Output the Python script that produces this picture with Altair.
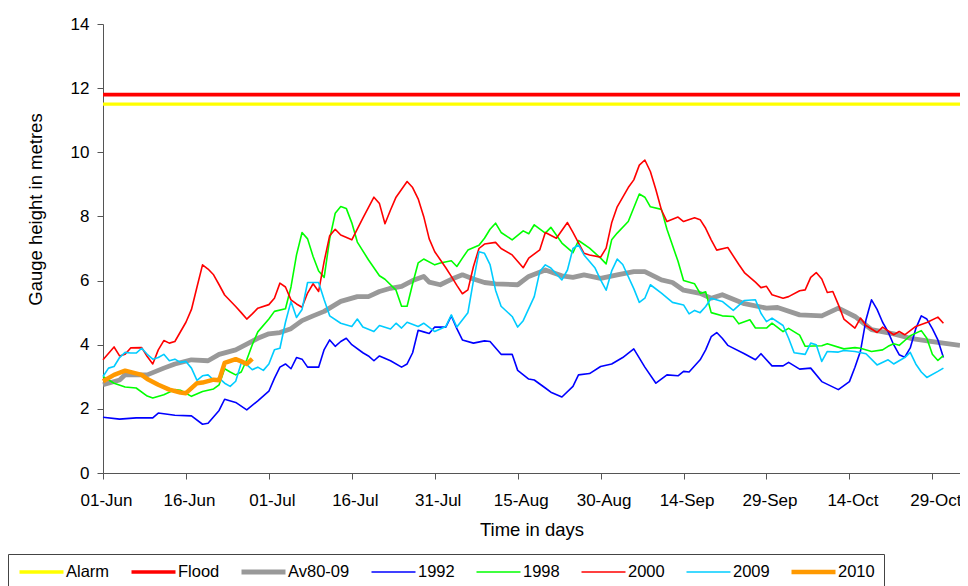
import altair as alt
import pandas as pd

# x axis: days counted from 01-Jun
tick_days = [0, 15, 30, 45, 60, 75, 90, 105, 120, 135, 150]
tick_labels = ["01-Jun", "16-Jun", "01-Jul", "16-Jul", "31-Jul", "15-Aug",
               "30-Aug", "14-Sep", "29-Sep", "14-Oct", "29-Oct"]
y_ticks = [0, 2, 4, 6, 8, 10, 12, 14]

alarm_level = 11.5
flood_level = 11.8
span_days = [0, 155]

av_days = [0, 3, 4, 8, 11, 13, 16, 19, 21, 24, 26, 28, 30, 32, 34, 36, 38, 40, 43, 46,
           48, 50, 52, 54, 56, 58, 59, 61, 63, 65, 67, 69, 71, 75, 77, 80, 83, 85, 87, 90,
           93, 96, 98, 101, 103, 105, 108, 110, 112, 116, 120, 122, 126, 130, 133, 136,
           139, 143, 146, 150, 155]
av_vals = [2.75, 2.90, 3.06, 3.06, 3.27, 3.40, 3.53, 3.50, 3.70, 3.84, 4.02, 4.20, 4.34,
           4.38, 4.50, 4.75, 4.90, 5.04, 5.35, 5.50, 5.50, 5.66, 5.76, 5.82, 6.00, 6.13,
           5.95, 5.87, 6.04, 6.18, 6.05, 5.94, 5.90, 5.87, 6.13, 6.33, 6.15, 6.10, 6.18,
           6.07, 6.18, 6.28, 6.28, 6.02, 5.94, 5.70, 5.60, 5.45, 5.56, 5.28, 5.14, 5.16,
           4.93, 4.90, 5.14, 4.88, 4.47, 4.34, 4.20, 4.10, 3.98]

y1992_days = [0, 3, 6, 9, 10, 13, 16, 18, 19, 21, 22, 24, 26, 28, 30, 31, 32, 33, 34, 35,
              36, 37, 39, 40, 41, 42, 43, 44, 45, 47, 48, 49, 50, 52, 54, 55, 56, 57, 58,
              59, 60, 62, 63, 64, 65, 67, 69, 70, 72, 74, 75, 77, 78, 80, 81, 83, 85, 86,
              88, 90, 92, 93, 94, 96, 98, 100, 102, 104, 105, 106, 108, 109, 110, 111, 112,
              113, 116, 118, 119, 121, 123, 124, 126, 128, 130, 133, 135, 136, 137, 138,
              139, 140, 141, 142, 143, 144, 145, 146, 147, 148, 149, 150, 151, 152]
y1992_vals = [1.74, 1.68, 1.72, 1.72, 1.87, 1.80, 1.78, 1.52, 1.55, 1.95, 2.30, 2.20, 1.97,
              2.25, 2.55, 2.95, 3.30, 3.40, 3.25, 3.60, 3.55, 3.30, 3.30, 3.85, 4.15, 3.95,
              4.10, 4.20, 4.00, 3.75, 3.65, 3.50, 3.65, 3.50, 3.30, 3.40, 3.75, 4.45, 4.40,
              4.35, 4.55, 4.55, 4.90, 4.50, 4.15, 4.05, 4.12, 4.10, 3.70, 3.70, 3.20, 2.93,
              2.90, 2.65, 2.52, 2.37, 2.70, 3.06, 3.10, 3.32, 3.40, 3.50, 3.60, 3.87, 3.30,
              2.80, 3.06, 3.03, 3.17, 3.15, 3.53, 3.84, 4.25, 4.38, 4.20, 3.98, 3.72, 3.53,
              3.72, 3.34, 3.34, 3.45, 3.24, 3.27, 2.85, 2.60, 2.85, 3.30, 3.80, 4.78, 5.40,
              5.10, 4.70, 4.40, 4.00, 3.69, 3.61, 3.90, 4.50, 4.90, 4.80, 4.50, 4.15, 3.60]

y1998_days = [0, 2, 4, 6, 8, 9, 11, 13, 14, 16, 18, 20, 21, 22, 23, 24, 25, 26, 27, 28, 30,
              31, 33, 34, 35, 36, 37, 38, 39, 40, 41, 42, 43, 44, 45, 46, 48, 50, 51, 53, 54,
              55, 56, 57, 58, 60, 61, 63, 64, 65, 66, 68, 69, 70, 71, 72, 74, 76, 77, 78, 80,
              81, 83, 85, 86, 88, 90, 91, 92, 93, 95, 97, 98, 99, 101, 102, 104, 105, 107,
              108, 109, 110, 112, 114, 115, 117, 118, 120, 121, 123, 124, 126, 127, 130, 131,
              134, 136, 137, 139, 141, 142, 143, 144, 146, 148, 149, 150, 151, 152]
y1998_vals = [3.01, 2.80, 2.68, 2.65, 2.40, 2.34, 2.44, 2.60, 2.58, 2.39, 2.54, 2.62, 2.75,
              3.25, 3.15, 3.06, 3.15, 3.53, 4.00, 4.40, 4.80, 5.04, 5.12, 5.80, 6.80, 7.50,
              7.30, 6.75, 6.30, 6.10, 7.30, 8.10, 8.31, 8.25, 7.80, 7.20, 6.65, 6.15, 6.04,
              5.70, 5.20, 5.20, 5.90, 6.55, 6.67, 6.49, 6.55, 6.62, 6.44, 6.70, 6.95, 7.10,
              7.32, 7.60, 7.79, 7.50, 7.27, 7.55, 7.46, 7.74, 7.48, 7.66, 7.17, 6.87, 7.25,
              7.01, 6.70, 6.52, 7.27, 7.48, 7.84, 8.70, 8.60, 8.30, 8.22, 7.60, 6.60, 6.00,
              5.90, 5.60, 5.65, 5.00, 4.90, 4.88, 4.65, 4.78, 4.52, 4.52, 4.67, 4.41, 4.51,
              4.30, 3.95, 3.97, 4.03, 3.87, 3.91, 3.89, 3.79, 3.84, 3.95, 4.03, 3.98, 4.28,
              4.44, 4.20, 3.70, 3.51, 3.66]

y2000_days = [0, 2, 3, 4, 5, 7, 8, 9, 10, 11, 12, 13, 15, 16, 17, 18, 19, 20, 21, 22, 24,
              25, 26, 27, 28, 30, 31, 32, 33, 34, 35, 36, 37, 38, 39, 40, 41, 42, 43, 45, 47,
              49, 50, 51, 52, 53, 55, 56, 57, 58, 59, 60, 62, 63, 64, 65, 66, 67, 68, 69, 71,
              72, 74, 76, 77, 79, 80, 82, 84, 85, 87, 88, 90, 91, 92, 93, 95, 96, 97, 98, 99,
              100, 101, 102, 104, 105, 107, 108, 109, 110, 111, 113, 115, 116, 118, 119, 120,
              121, 123, 124, 126, 127, 128, 129, 130, 131, 132, 133, 134, 136, 137, 138, 140,
              141, 143, 144, 145, 147, 149, 151, 152]
y2000_vals = [3.53, 3.93, 3.65, 3.70, 3.90, 3.91, 3.63, 3.40, 3.84, 4.13, 4.05, 4.10, 4.70,
              5.10, 5.80, 6.49, 6.36, 6.18, 5.87, 5.55, 5.19, 5.00, 4.80, 4.96, 5.14, 5.25,
              5.45, 5.92, 5.80, 5.40, 5.27, 5.17, 5.61, 5.90, 5.66, 6.60, 7.40, 7.60, 7.42,
              7.27, 7.95, 8.60, 8.40, 7.77, 8.20, 8.60, 9.09, 8.90, 8.55, 8.00, 7.30, 6.90,
              6.40, 6.13, 5.85, 5.59, 5.71, 6.44, 7.00, 7.14, 7.19, 7.00, 6.80, 6.40, 6.70,
              6.96, 7.50, 7.32, 7.81, 7.50, 6.85, 6.80, 6.73, 7.01, 7.80, 8.30, 8.90, 9.14,
              9.60, 9.76, 9.40, 8.83, 8.20, 7.84, 7.98, 7.84, 7.96, 7.90, 7.63, 7.27, 6.95,
              7.03, 6.50, 6.25, 5.95, 5.78, 5.82, 5.56, 5.45, 5.50, 5.68, 5.71, 6.10, 6.25,
              6.05, 5.63, 5.66, 5.25, 4.80, 4.52, 4.83, 4.60, 4.38, 4.55, 4.31, 4.41, 4.31,
              4.57, 4.69, 4.86, 4.67]

y2009_days = [0, 1, 2, 3, 4, 5, 6, 7, 8, 9, 10, 11, 12, 13, 14, 15, 16, 17, 18, 19, 20, 21,
              22, 23, 24, 25, 26, 27, 28, 29, 30, 31, 32, 33, 34, 35, 36, 37, 39, 40, 41, 43,
              45, 46, 47, 49, 50, 52, 53, 54, 55, 57, 58, 60, 62, 63, 64, 66, 67, 68, 69, 70,
              71, 72, 74, 75, 76, 78, 79, 80, 81, 83, 84, 85, 86, 87, 89, 90, 91, 92, 93, 94,
              96, 97, 98, 99, 101, 103, 105, 106, 107, 108, 109, 110, 112, 114, 116, 118, 119,
              120, 121, 123, 124, 125, 127, 128, 129, 130, 131, 133, 134, 136, 138, 140, 142,
              143, 145, 146, 147, 148, 149, 151, 152]
y2009_vals = [3.01, 3.27, 3.32, 3.60, 3.76, 3.74, 3.74, 3.89, 3.70, 3.55, 3.60, 3.70, 3.50,
              3.55, 3.45, 3.48, 3.27, 2.89, 3.03, 3.06, 2.90, 2.96, 2.80, 2.70, 2.86, 3.43,
              3.38, 3.22, 3.30, 3.20, 3.40, 3.84, 3.89, 4.70, 5.35, 4.85, 5.10, 5.94, 5.94,
              5.40, 4.90, 4.67, 4.57, 4.80, 4.55, 4.41, 4.60, 4.49, 4.67, 4.52, 4.70, 4.57,
              4.67, 4.41, 4.57, 4.93, 4.55, 5.00, 6.00, 6.90, 6.85, 6.50, 5.70, 5.20, 4.88,
              4.55, 4.75, 5.50, 6.28, 6.49, 6.39, 6.02, 6.33, 7.00, 7.11, 6.80, 6.39, 6.02,
              5.70, 6.30, 6.67, 6.50, 5.75, 5.32, 5.45, 5.87, 5.61, 5.32, 5.24, 4.96, 5.07,
              5.00, 5.19, 5.45, 5.35, 5.07, 5.38, 5.40, 4.98, 4.72, 4.83, 4.60, 4.20, 3.75,
              3.70, 4.05, 4.00, 3.48, 3.79, 3.77, 3.82, 3.79, 3.72, 3.37, 3.53, 3.40, 3.60,
              3.76, 3.40, 3.15, 2.98, 3.17, 3.27]

y2010_days = [0, 2, 4, 7, 8, 10, 12, 14, 15, 17, 18, 20, 21, 22, 24, 25, 26, 27]
y2010_vals = [2.86, 3.06, 3.19, 3.06, 2.93, 2.75, 2.60, 2.51, 2.49, 2.80, 2.82, 2.91, 2.89,
              3.43, 3.55, 3.48, 3.40, 3.56]

series_names = ["Alarm", "Flood", "Av80-09", "1992", "1998", "2000", "2009", "2010"]
series_colors = ["#FFFF00", "#FF0000", "#999999", "#0000FF", "#00FF00", "#FF0000",
                 "#00CCFF", "#FF9900"]
series_widths = [3.3, 3.7, 4.8, 1.6, 1.6, 1.6, 1.6, 4.5]

series_data = [
    ("Alarm", span_days, [alarm_level, alarm_level]),
    ("Flood", span_days, [flood_level, flood_level]),
    ("Av80-09", av_days, av_vals),
    ("1992", y1992_days, y1992_vals),
    ("1998", y1998_days, y1998_vals),
    ("2000", y2000_days, y2000_vals),
    ("2009", y2009_days, y2009_vals),
    ("2010", y2010_days, y2010_vals),
]

rows = []
for name, days, vals in series_data:
    for d, v in zip(days, vals):
        rows.append({"series": name, "day": d, "level": v})
df = pd.DataFrame(rows)

label_expr = "{}[round(datum.value / 15)]".format(
    "[" + ",".join("'%s'" % t for t in tick_labels) + "]")

FONT = "Liberation Sans"

chart = alt.Chart(df).mark_line(strokeJoin="round").encode(
    x=alt.X("day:Q",
            scale=alt.Scale(domain=[0, 155], nice=False, zero=False),
            axis=alt.Axis(values=tick_days, labelExpr=label_expr, title="Time in days",
                          labelPadding=13, titlePadding=12, labelFlush=False,
                          labelOverlap=False, labelOffset=3)),
    y=alt.Y("level:Q",
            scale=alt.Scale(domain=[0, 14], nice=False),
            axis=alt.Axis(values=y_ticks, title="Gauge height in metres",
                          labelPadding=8, titleX=-62, titleY=185,
                          titleBaseline="alphabetic")),
    color=alt.Color("series:N", title=None,
                    scale=alt.Scale(domain=series_names, range=series_colors)),
    strokeWidth=alt.StrokeWidth("series:N", title=None,
                                scale=alt.Scale(type="ordinal", domain=series_names,
                                                range=series_widths)),
    order=alt.Order("day:Q"),
).properties(
    width=857,
    height=449,
    autosize=alt.AutoSizeParams(type="none"),
    padding={"left": 95, "top": 16, "right": 0, "bottom": 114},
).configure_view(
    stroke=None
).configure_axis(
    grid=False,
    domainColor="#555555",
    tickColor="#555555",
    tickSize=6,
    labelFont=FONT,
    labelFontSize=17,
    labelColor="black",
    titleFont=FONT,
    titleFontSize=18.5,
    titleFontWeight="normal",
    titleColor="black",
).configure_legend(
    orient="none",
    legendX=-95,
    legendY=530,
    direction="horizontal",
    columns=8,
    symbolType="stroke",
    symbolSize=1936,
    clipHeight=18,
    labelFont=FONT,
    labelFontSize=16.5,
    labelColor="black",
    labelOffset=0,
    labelLimit=200,
    columnPadding=19,
    padding=9,
    strokeColor="#444444",
    fillColor="white",
)

chart.save("out.html", embed_options={"renderer": "svg", "actions": False})
